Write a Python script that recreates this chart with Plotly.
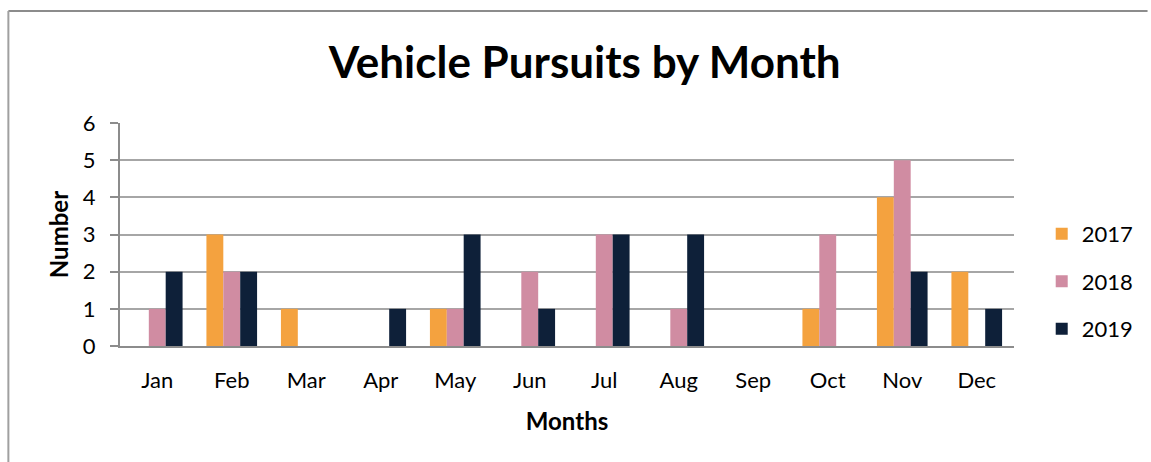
import plotly.graph_objects as go

months = ["Jan", "Feb", "Mar", "Apr", "May", "Jun", "Jul", "Aug", "Sep", "Oct", "Nov", "Dec"]
y2017 = [0, 3, 1, 0, 1, 0, 0, 0, 0, 1, 4, 2]
y2018 = [1, 2, 0, 0, 1, 2, 3, 1, 0, 3, 5, 0]
y2019 = [2, 2, 0, 1, 3, 1, 3, 3, 0, 0, 2, 1]
series_names = ["2017", "2018", "2019"]
colors = ["#F4A23F", "#D08CA2", "#0E2039"]

fig = go.Figure()
for name, vals, col in zip(series_names, [y2017, y2018, y2019], colors):
    fig.add_trace(go.Bar(x=months, y=vals, name=name, marker=dict(color=col, line=dict(width=0)),
                         legendgroup=name))

font = "Lato, 'Open Sans', sans-serif"
fig.update_layout(
    width=1151, height=462,
    margin=dict(l=120, r=134, t=123, b=116),
    paper_bgcolor="white", plot_bgcolor="white",
    barmode="group", bargap=0.32, bargroupgap=0,
    title=dict(text="<b>Vehicle Pursuits by Month</b>", x=0.508, xanchor="center", y=0.864, yanchor="middle",
               font=dict(family=font, size=44, color="black")),
    font=dict(family=font, size=22, color="black"),
    showlegend=True,
    legend=dict(x=1.031, xanchor="left", y=0.29, yanchor="middle", font=dict(size=22),
                tracegroupgap=16, itemwidth=30, bgcolor="rgba(0,0,0,0)"),
    xaxis=dict(showgrid=False, showline=True, linecolor="#8C8C8C", linewidth=2, ticks="",
               ticklabelstandoff=14, tickfont=dict(size=22),
               title=dict(text="<b>Months</b>", font=dict(size=24), standoff=21)),
    yaxis=dict(range=[0, 6], dtick=1, showgrid=True, gridcolor="#A6A6A6", gridwidth=2,
               showline=True, linecolor="#8C8C8C", linewidth=2, ticks="outside", ticklen=8,
               tickcolor="#8C8C8C", tickwidth=2, tickfont=dict(size=22), zeroline=False,
               ticklabelstandoff=10,
               title=dict(text="<b>Number</b>", font=dict(size=24), standoff=7)),
    shapes=[
        dict(type="line", xref="paper", yref="paper", x0=(8 - 120) / 897, x1=(1151 - 120) / 897,
             y0=(346 - 11) / 223, y1=(346 - 11) / 223, line=dict(color="#8C8C8C", width=2)),
        dict(type="line", xref="paper", yref="paper", x0=(8 - 120) / 897, x1=(8 - 120) / 897,
             y0=(346 - 11) / 223, y1=(346 - 470) / 223, line=dict(color="#A0A0A0", width=2)),
    ],
)

fig.write_html("out.html", config={"displayModeBar": False},
               post_script="document.body.style.margin='0';document.body.style.padding='0';")
